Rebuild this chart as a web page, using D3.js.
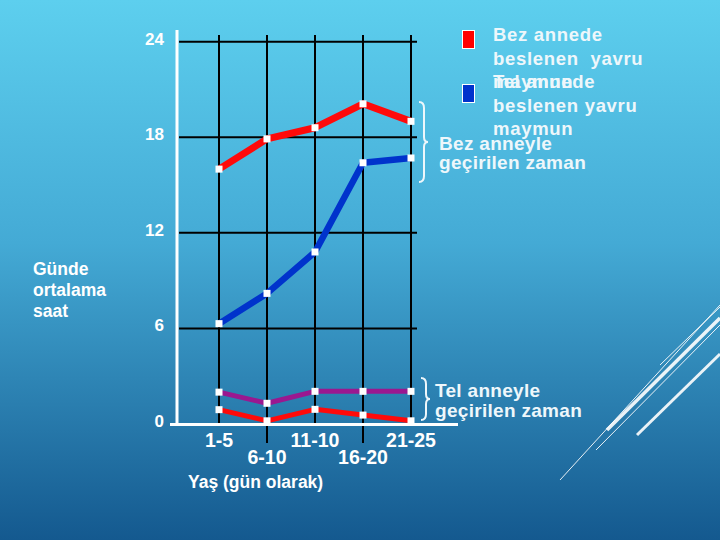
<!DOCTYPE html>
<html><head><meta charset="utf-8">
<script src="https://cdn.jsdelivr.net/npm/d3@7"></script>
<style>html,body{margin:0;padding:0;overflow:hidden;}svg{display:block;}</style>
</head><body>
<script>
const categories = ["1-5", "6-10", "11-10", "16-20", "21-25"];
const yTicks = [0, 6, 12, 18, 24];
const clothFedCloth = [16.0, 17.9, 18.6, 20.1, 19.0];   // Bez annede beslenen – bez anneyle
const wireFedCloth  = [6.3, 8.2, 10.8, 16.4, 16.7];     // Tel annede beslenen – bez anneyle
const wireFedWire   = [2.0, 1.3, 2.05, 2.05, 2.05];     // Tel annede beslenen – tel anneyle
const clothFedWire  = [0.9, 0.2, 0.92, 0.56, 0.2];      // Bez annede beslenen – tel anneyle
const legendRed = ["Bez annede", "beslenen  yavru", "maymun"];
const legendBlue = ["Tel annede", "beslenen yavru", "maymun"];
const yTitle = ["Günde", "ortalama", "saat"];
const xTitle = "Yaş (gün olarak)";
const noteCloth = ["Bez anneyle", "geçirilen zaman"];
const noteWire = ["Tel anneyle", "geçirilen zaman"];

const W = 720, H = 540;
const font = "Liberation Sans, Arial, sans-serif";
const svg = d3.select("body").append("svg").attr("width", W).attr("height", H);
const defs = svg.append("defs");
const g = defs.append("linearGradient").attr("id", "bg").attr("x1", 0).attr("y1", 0).attr("x2", 0).attr("y2", 1);
g.append("stop").attr("offset", "0%").attr("stop-color", "#5dcfee");
g.append("stop").attr("offset", "45%").attr("stop-color", "#44aad5");
g.append("stop").attr("offset", "100%").attr("stop-color", "#14598f");
svg.append("rect").attr("width", W).attr("height", H).attr("fill", "url(#bg)");

// decorative diagonal lines
const deco = [
  [560, 480, 720, 305, 1], [596, 450, 720, 325, 1], [660, 365, 720, 307, 1],
  [607, 430, 720, 318, 3.5], [637, 435, 720, 354, 3]
];
svg.selectAll("line.deco").data(deco).enter().append("line")
  .attr("x1", d => d[0]).attr("y1", d => d[1]).attr("x2", d => d[2]).attr("y2", d => d[3])
  .attr("stroke", "#ffffff").attr("stroke-width", d => d[4]).attr("opacity", 0.9);

const x = d3.scalePoint().domain(categories).range([219, 411]);
const y = d3.scaleLinear().domain([0, 24]).range([424, 41.7]);

// horizontal grid
svg.selectAll("line.hg").data(yTicks.filter(d => d > 0)).enter().append("line")
  .attr("x1", 179).attr("x2", 417).attr("y1", d => y(d)).attr("y2", d => y(d))
  .attr("stroke", "#000").attr("stroke-width", 2);
// vertical grid
svg.selectAll("line.vg").data(categories).enter().append("line")
  .attr("x1", d => x(d)).attr("x2", d => x(d)).attr("y1", 35)
  .attr("y2", (d, i) => i % 2 ? 443 : y(0))
  .attr("stroke", "#000").attr("stroke-width", 2);

// axes (white)
svg.append("line").attr("x1", 177).attr("x2", 177).attr("y1", 30).attr("y2", 425)
  .attr("stroke", "#fff").attr("stroke-width", 3);
svg.append("line").attr("x1", 170).attr("x2", 458).attr("y1", y(0) + 0.5).attr("y2", y(0) + 0.5)
  .attr("stroke", "#fff").attr("stroke-width", 3);

// y tick labels
svg.selectAll("text.yt").data(yTicks).enter().append("text")
  .attr("x", 164).attr("y", d => y(d) + 3).attr("text-anchor", "end")
  .attr("font-family", font).attr("font-weight", "bold")
  .attr("font-size", 17).attr("fill", "#fff").text(d => d);

// x tick labels (staggered)
svg.selectAll("text.xt").data(categories).enter().append("text")
  .attr("x", d => x(d)).attr("y", (d, i) => i % 2 ? 464 : 447).attr("text-anchor", "middle")
  .attr("font-family", font).attr("font-weight", "bold")
  .attr("font-size", 19.5).attr("fill", "#fff").text(d => d);

svg.append("text").attr("x", 188).attr("y", 488)
  .attr("font-family", font).attr("font-weight", "bold")
  .attr("font-size", 17.5).attr("fill", "#fff").text(xTitle);

svg.selectAll("text.ytitle").data(yTitle).enter().append("text")
  .attr("x", 33).attr("y", (d, i) => 275 + i * 21)
  .attr("font-family", font).attr("font-weight", "bold")
  .attr("font-size", 17.5).attr("fill", "#fff").text(d => d);

// series
const series = [
  { v: clothFedWire, c: "#ff0a0a", w: 5 },
  { v: wireFedWire, c: "#9a1890", w: 5 },
  { v: wireFedCloth, c: "#0033cc", w: 6.5 },
  { v: clothFedCloth, c: "#ff0a0a", w: 7 }
];
const line = d3.line().x((d, i) => x(categories[i])).y(d => y(d));
series.forEach(s => {
  svg.append("path").attr("d", line(s.v)).attr("fill", "none")
    .attr("stroke", s.c).attr("stroke-width", s.w).attr("stroke-linejoin", "round");
});
series.forEach(s => {
  svg.selectAll(null).data(s.v).enter().append("rect")
    .attr("x", (d, i) => x(categories[i]) - 3.5).attr("y", d => y(d) - 3.5)
    .attr("width", 7).attr("height", 7).attr("fill", "#fff");
});

// legend
svg.append("rect").attr("x", 462.5).attr("y", 30.5).attr("width", 12).attr("height", 18)
  .attr("fill", "#ff0000").attr("stroke", "#fff").attr("stroke-width", 1);
svg.append("rect").attr("x", 462.5).attr("y", 84.5).attr("width", 12).attr("height", 18)
  .attr("fill", "#0033cc").attr("stroke", "#fff").attr("stroke-width", 1);
svg.selectAll("text.lr").data(legendRed).enter().append("text")
  .attr("x", 493).attr("y", (d, i) => 41 + i * 23.5)
  .attr("font-family", font).attr("font-weight", "bold").attr("font-size", 18.5)
  .attr("letter-spacing", 0.7).attr("fill", "#eef7fb").style("white-space", "pre").text(d => d);
svg.selectAll("text.lb").data(legendBlue).enter().append("text")
  .attr("x", 493).attr("y", (d, i) => 88 + i * 23.5)
  .attr("font-family", font).attr("font-weight", "bold").attr("font-size", 18.5)
  .attr("letter-spacing", 0.7).attr("fill", "#eef7fb").style("white-space", "pre").text(d => d);

// braces
function brace(xb, y0, y1) {
  const m = (y0 + y1) / 2;
  return `M${xb - 5},${y0} Q${xb},${y0} ${xb},${y0 + 6} L${xb},${m - 5} Q${xb},${m} ${xb + 4},${m} Q${xb},${m} ${xb},${m + 5} L${xb},${y1 - 6} Q${xb},${y1} ${xb - 5},${y1}`;
}
svg.append("path").attr("d", brace(424, 102, 182)).attr("fill", "none").attr("stroke", "#eef7fb").attr("stroke-width", 2);
svg.append("path").attr("d", brace(426, 378, 420)).attr("fill", "none").attr("stroke", "#eef7fb").attr("stroke-width", 2);

svg.selectAll("text.nc").data(noteCloth).enter().append("text")
  .attr("x", 439).attr("y", (d, i) => 150 + i * 19)
  .attr("font-family", font).attr("font-weight", "bold").attr("font-size", 19)
  .attr("letter-spacing", 0.3).attr("fill", "#eef7fb").text(d => d);
svg.selectAll("text.nw").data(noteWire).enter().append("text")
  .attr("x", 435).attr("y", (d, i) => 397 + i * 20)
  .attr("font-family", font).attr("font-weight", "bold").attr("font-size", 19)
  .attr("letter-spacing", 0.3).attr("fill", "#eef7fb").text(d => d);
</script>
</body></html>
